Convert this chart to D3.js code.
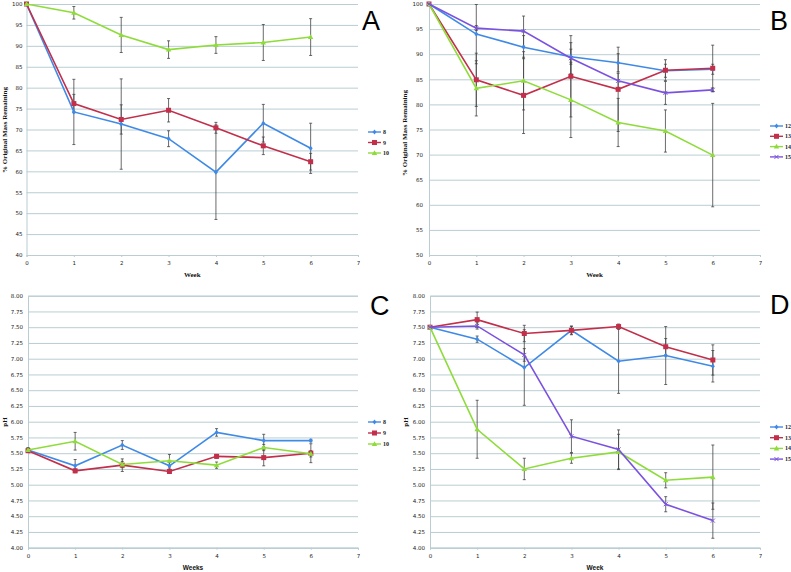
<!DOCTYPE html>
<html>
<head>
<meta charset="utf-8">
<script src="https://cdn.jsdelivr.net/npm/d3@7"></script>
<style>
  html, body { margin: 0; padding: 0; background: #fff; }
  svg { display: block; }
  .tick-lbl { font-family: "DejaVu Sans", sans-serif; font-size: 5.5px; fill: #222; }
  .ax-title { font-family: "Liberation Serif", serif; font-size: 7px; font-weight: bold; fill: #111; }
  .ax-title.sans { font-family: "Liberation Sans", Arial, sans-serif; font-size: 6.5px; }
  .leg-lbl  { font-family: "Liberation Serif", serif; font-size: 6px; font-weight: bold; fill: #222; }
  .panel-lbl { font-family: "Liberation Sans", Arial, sans-serif; font-size: 27px; fill: #000; }
</style>
</head>
<body>
<svg id="chart" width="791" height="572"></svg>
<script>
'use strict';

/* ── Data ─────────────────────────────────────────────── */
const weeks = [0, 1, 2, 3, 4, 5, 6];

// Panel A – % original mass remaining, samples 8–10
const massA8   = [100, 74.2, 71.3, 67.8, 59.8, 71.5, 65.5];
const massA8e  = [0, 7.8, 10.8, 1.9, 11.3, 4.5, 6.0];
const massA9   = [100, 76.2, 72.4, 74.6, 70.4, 66.1, 62.3];
const massA9e  = [0, 2.2, 3.5, 2.8, 1.3, 2.1, 2.0];
const massA10  = [100, 97.9, 92.6, 89.1, 90.2, 90.8, 92.1];
const massA10e = [0, 1.5, 4.2, 2.1, 2.0, 4.3, 4.4];

// Panel B – % original mass remaining, samples 12–15
const massB12  = [100, 94.0, 91.4, 89.5, 88.3, 86.7, 87.0];
const massB12e = [0, 5.9, 2.3, 1.5, 1.8, 1.3, 1.0];
const massB13  = [100, 84.9, 81.8, 85.6, 83.0, 86.8, 87.2];
const massB13e = [0, 5.3, 7.6, 8.1, 8.4, 2.1, 4.6];
const massB14  = [100, 83.2, 84.7, 80.9, 76.4, 74.7, 69.9];
const massB14e = [0, 5.5, 5.8, 7.5, 4.8, 4.2, 10.3];
const massB15  = [100, 95.2, 94.6, 89.2, 84.7, 82.3, 82.9];
const massB15e = [0, 0.5, 3.0, 3.1, 1.5, 2.3, 0.4];

// Panel C – pH, samples 8–10
const phC8   = [5.55, 5.30, 5.63, 5.30, 5.83, 5.70, 5.70];
const phC8e  = [0.04, 0.10, 0.07, 0.05, 0.06, 0.10, 0.02];
const phC9   = [5.54, 5.22, 5.31, 5.21, 5.45, 5.43, 5.50];
const phC9e  = [0.03, 0.03, 0.10, 0.03, 0.03, 0.13, 0.15];
const phC10  = [5.55, 5.69, 5.32, 5.38, 5.31, 5.59, 5.49];
const phC10e = [0.03, 0.14, 0.05, 0.10, 0.05, 0.05, 0.05];

// Panel D – pH, samples 12–15
const phD12  = [7.50, 7.31, 6.86, 7.45, 6.96, 7.05, 6.88];
const phD12e = [0.02, 0.05, 0.60, 0.06, 0.51, 0.46, 0.25];
const phD13  = [7.50, 7.62, 7.40, 7.45, 7.51, 7.19, 6.98];
const phD13e = [0.02, 0.12, 0.13, 0.07, 0.04, 0.13, 0.24];
const phD14  = [7.50, 5.88, 5.25, 5.42, 5.52, 5.07, 5.12];
const phD14e = [0.02, 0.46, 0.17, 0.08, 0.28, 0.12, 0.51];
const phD15  = [7.50, 7.52, 7.06, 5.77, 5.56, 4.69, 4.43];
const phD15e = [0.02, 0.05, 0.10, 0.26, 0.31, 0.12, 0.28];

const massTicksA = d3.range(40, 100.01, 5);
const massTicksB = d3.range(50, 100.01, 5);
const phTicks    = d3.range(4, 8.001, 0.25);
const xTicks     = d3.range(0, 8, 1);

/* ── Series styling ───────────────────────────────────── */
const COL = { blue: '#3f8ae6', red: '#c22f4b', green: '#8edc3a', purple: '#7b52e0' };

const svg = d3.select('#chart');

/* ── Draw one panel ───────────────────────────────────── */
function drawPanel(p) {
  const x = d3.scaleLinear().domain([0, 7]).range([p.x0, p.x1]);
  const y = d3.scaleLinear().domain(p.yDomain).range([p.yBot, p.yTop]);
  const g = svg.append('g');

  /* gridlines */
  const yAxis = d3.axisLeft(y).tickValues(p.yTicks).tickSize(-(p.x1 - p.x0))
    .tickFormat(p.fmt).tickPadding(p.pad);
  const ya = g.append('g').attr('transform', `translate(${p.x0},0)`).call(yAxis);
  ya.select('.domain').attr('stroke', '#b9cdd3');
  ya.selectAll('.tick line').attr('stroke', '#b9cdd3').attr('stroke-width', 1);
  ya.selectAll('.tick text').attr('class', 'tick-lbl').attr('fill', null);

  const xAxis = d3.axisBottom(x).tickValues(xTicks).tickSize(2).tickPadding(4)
    .tickFormat(d3.format('d'));
  const xa = g.append('g').attr('transform', `translate(0,${p.yBot})`).call(xAxis);
  xa.select('.domain').attr('stroke', '#b9cdd3');
  xa.selectAll('.tick line').attr('stroke', '#b9cdd3');
  xa.selectAll('.tick text').attr('class', 'tick-lbl').attr('fill', null);

  /* error bars */
  p.series.forEach(s => {
    const eg = g.append('g').attr('stroke', '#444').attr('stroke-width', 0.8);
    weeks.forEach((w, i) => {
      const e = s.err[i];
      if (!e) return;
      const cx = x(w), y1 = y(s.vals[i] - e), y2 = y(s.vals[i] + e);
      eg.append('line').attr('x1', cx).attr('x2', cx).attr('y1', y1).attr('y2', y2);
      eg.append('line').attr('x1', cx - 1.5).attr('x2', cx + 1.5).attr('y1', y1).attr('y2', y1);
      eg.append('line').attr('x1', cx - 1.5).attr('x2', cx + 1.5).attr('y1', y2).attr('y2', y2);
    });
  });

  /* lines + markers */
  const line = d3.line().x((d, i) => x(weeks[i])).y(d => y(d));
  p.series.forEach(s => {
    g.append('path').datum(s.vals)
      .attr('d', line).attr('fill', 'none')
      .attr('stroke', s.color).attr('stroke-width', 1.6);
    s.vals.forEach((v, i) => drawMarker(g, x(weeks[i]), y(v), s));
  });

  /* legend */
  p.series.forEach((s, i) => {
    const ly = p.legY + i * p.legStep;
    g.append('line')
      .attr('x1', p.legX).attr('x2', p.legX + 13).attr('y1', ly).attr('y2', ly)
      .attr('stroke', s.color).attr('stroke-width', 1.4);
    drawMarker(g, p.legX + 6.5, ly, s);
    g.append('text').attr('class', 'leg-lbl')
      .attr('x', p.legX + 15).attr('y', ly + 2).text(s.name);
  });

  /* titles */
  g.append('text').attr('class', p.xSans ? 'ax-title sans' : 'ax-title')
    .attr('x', (p.x0 + p.x1) / 2).attr('y', p.yBot + 22)
    .attr('text-anchor', 'middle').text(p.xTitle);

  g.append('text').attr('class', 'ax-title')
    .attr('transform', `translate(${p.ytX},${p.ytY}) rotate(-90)`)
    .attr('text-anchor', 'middle').text(p.yTitle);

  g.append('text').attr('class', 'panel-lbl')
    .attr('x', p.lblX).attr('y', p.lblY).text(p.letter);
}

function drawMarker(g, cx, cy, s) {
  if (s.shape === 'diamond') {
    g.append('path').attr('d', `M${cx},${cy - 2.6}L${cx + 2},${cy}L${cx},${cy + 2.6}L${cx - 2},${cy}Z`)
      .attr('fill', s.color);
  } else if (s.shape === 'square') {
    g.append('rect').attr('x', cx - 2.5).attr('y', cy - 2.5).attr('width', 5).attr('height', 5)
      .attr('fill', s.color);
  } else if (s.shape === 'triangle') {
    g.append('path').attr('d', `M${cx},${cy - 2.8}L${cx + 2.7},${cy + 2}L${cx - 2.7},${cy + 2}Z`)
      .attr('fill', s.color);
  } else {
    g.append('path').attr('d', `M${cx - 2},${cy - 2}L${cx + 2},${cy + 2}M${cx - 2},${cy + 2}L${cx + 2},${cy - 2}`)
      .attr('stroke', s.color).attr('stroke-width', 1);
  }
}

const setA = [
  { name: '8',  vals: massA8,  err: massA8e,  color: COL.blue,  shape: 'diamond' },
  { name: '9',  vals: massA9,  err: massA9e,  color: COL.red,   shape: 'square' },
  { name: '10', vals: massA10, err: massA10e, color: COL.green, shape: 'triangle' }
];
const setB = [
  { name: '12', vals: massB12, err: massB12e, color: COL.blue,   shape: 'diamond' },
  { name: '13', vals: massB13, err: massB13e, color: COL.red,    shape: 'square' },
  { name: '14', vals: massB14, err: massB14e, color: COL.green,  shape: 'triangle' },
  { name: '15', vals: massB15, err: massB15e, color: COL.purple, shape: 'cross' }
];
const setC = [
  { name: '8',  vals: phC8,  err: phC8e,  color: COL.blue,  shape: 'diamond' },
  { name: '9',  vals: phC9,  err: phC9e,  color: COL.red,   shape: 'square' },
  { name: '10', vals: phC10, err: phC10e, color: COL.green, shape: 'triangle' }
];
const setD = [
  { name: '12', vals: phD12, err: phD12e, color: COL.blue,   shape: 'diamond' },
  { name: '13', vals: phD13, err: phD13e, color: COL.red,    shape: 'square' },
  { name: '14', vals: phD14, err: phD14e, color: COL.green,  shape: 'triangle' },
  { name: '15', vals: phD15, err: phD15e, color: COL.purple, shape: 'cross' }
];

const fmtInt = d3.format('d');
const fmtPh  = d3.format('.2f');

drawPanel({ letter: 'A', series: setA, x0: 26.5, x1: 358, yTop: 4, yBot: 255,
  yDomain: [40, 100], yTicks: massTicksA, fmt: fmtInt, pad: 4,
  legX: 368, legY: 132, legStep: 10.5, xTitle: 'Week', yTitle: '% Original Mass Remaining',
  ytX: 7, ytY: 130, lblX: 362, lblY: 30 });

drawPanel({ letter: 'B', series: setB, x0: 429, x1: 760, yTop: 4, yBot: 255,
  yDomain: [50, 100], yTicks: massTicksB, fmt: fmtInt, pad: 6,
  legX: 770, legY: 126, legStep: 10.3, xTitle: 'Week', yTitle: '% Original Mass Remaining',
  ytX: 407, ytY: 133, lblX: 770, lblY: 30 });

drawPanel({ letter: 'C', series: setC, x0: 28, x1: 358, yTop: 295.7, yBot: 547.7,
  yDomain: [4, 8], yTicks: phTicks, fmt: fmtPh, pad: 5,
  legX: 368, legY: 422, legStep: 11, xTitle: 'Weeks', xSans: true, yTitle: 'pH',
  ytX: 7, ytY: 422, lblX: 370, lblY: 315 });

drawPanel({ letter: 'D', series: setD, x0: 430, x1: 760, yTop: 295.7, yBot: 547.7,
  yDomain: [4, 8], yTicks: phTicks, fmt: fmtPh, pad: 5,
  legX: 770, legY: 427, legStep: 10.7, xTitle: 'Week', xSans: true, yTitle: 'pH',
  ytX: 408, ytY: 422, lblX: 770, lblY: 314 });
</script>
</body>
</html>
